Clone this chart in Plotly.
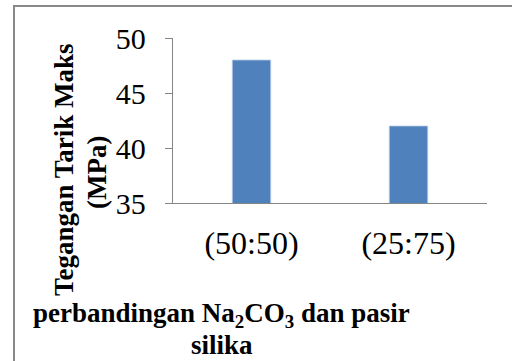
import plotly.graph_objects as go

categories = ["(50:50)", "(25:75)"]
values = [48, 42]
y_ticks = [35, 40, 45, 50]

FONT = "Liberation Serif"
W, H = 512, 361
L, R, T, B = 173, 25, 38, 158
pw, ph = W - L - R, H - T - B

def px(x):
    return (x - L) / pw

def py(y):
    return (H - B - y) / ph

fig = go.Figure(go.Bar(
    x=categories, y=values,
    marker=dict(color="#4F81BD", line=dict(color="#B9CDE5", width=0.8)),
))

fig.update_layout(
    width=W, height=H,
    margin=dict(l=L, r=R, t=T, b=B, pad=0),
    paper_bgcolor="white", plot_bgcolor="white",
    bargap=0.755,
    showlegend=False,
    font=dict(family=FONT, color="black"),
)
fig.update_xaxes(
    showline=True, linecolor="#868686", linewidth=1.3,
    ticks="", showgrid=False,
    tickfont=dict(family=FONT, size=32, color="black"),
    ticklabelstandoff=11,
)
fig.update_yaxes(
    range=[35, 50], tickvals=y_ticks,
    showline=True, linecolor="#868686", linewidth=1.3,
    ticks="outside", ticklen=7, tickcolor="#868686", tickwidth=1.3,
    showgrid=False, zeroline=False,
    tickfont=dict(family=FONT, size=30, color="black"),
    ticklabelstandoff=13,
)

# outer frame
fig.add_shape(type="rect", xref="paper", yref="paper",
              x0=px(14), x1=px(520), y0=py(370), y1=py(6),
              line=dict(color="#898989", width=2), layer="above")

# y title
fig.add_annotation(text="<b>Tegangan Tarik Maks</b>", xref="paper", yref="paper",
                   x=px(64), y=py(170), textangle=-90, showarrow=False,
                   xanchor="center", yanchor="middle",
                   font=dict(family=FONT, size=27, color="black"))
fig.add_annotation(text="<b>(MPa)</b>", xref="paper", yref="paper",
                   x=px(97), y=py(173), textangle=-90, showarrow=False,
                   xanchor="center", yanchor="middle",
                   font=dict(family=FONT, size=27, color="black"))

# x title
fig.add_annotation(text="<b>perbandingan Na<sub>2</sub>CO<sub>3</sub> dan pasir</b>",
                   xref="paper", yref="paper", x=px(221), y=py(315),
                   showarrow=False, xanchor="center", yanchor="middle",
                   font=dict(family=FONT, size=27, color="black"))
fig.add_annotation(text="<b>silika</b>",
                   xref="paper", yref="paper", x=px(222), y=py(345),
                   showarrow=False, xanchor="center", yanchor="middle",
                   font=dict(family=FONT, size=27, color="black"))

fig.write_html("out.html", config={"displayModeBar": False},
               post_script="document.body.style.margin='0';document.body.style.overflow='hidden';")
